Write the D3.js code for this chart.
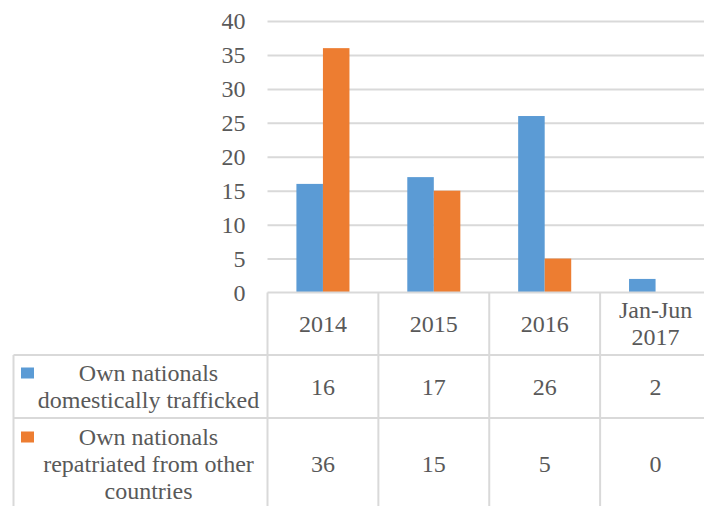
<!DOCTYPE html>
<html>
<head>
<meta charset="utf-8">
<script src="https://cdn.jsdelivr.net/npm/d3@7"></script>
</head>
<body style="margin:0; padding:0; background:#fff;">
<svg id="chart" width="704" height="506" style="display:block"></svg>
<script>
// Categories (header row of the data table; multi-line labels split by "\n")
const categories = ["2014", "2015", "2016", "Jan-Jun\n2017"];
// Series names (legend column of the data table)
const seriesNames = ["Own nationals\ndomestically trafficked", "Own nationals\nrepatriated from other\ncountries"];
// Series values
const domestic = [16, 17, 26, 2];
const repatriated = [36, 15, 5, 0];
// Y axis ticks
const yTicks = [0, 5, 10, 15, 20, 25, 30, 35, 40];

const seriesValues = [domestic, repatriated];
const colors = ["#5B9BD5", "#ED7D31"];

const FONT = "'Liberation Serif', 'Times New Roman', serif";
const TEXT_COLOR = "#595959";

const svg = d3.select("#chart");
const W = 704, H = 506;

const plotLeft = 267.5, plotRight = 711, plotTop = 21, plotBottom = 292.5;
const tableLeft = 13.5;
const rowBounds = [292.5, 355, 418, 512];
const fontSize = 24, lineH = 27;
const gridColor = "#D9D9D9";

const x = d3.scaleBand().domain(categories).range([plotLeft, plotRight]).paddingInner(0).paddingOuter(0);
const xs = d3.scaleBand().domain([0, 1]).range([0, x.bandwidth()]).paddingInner(0).paddingOuter(1.09);
const y = d3.scaleLinear().domain([0, 40]).range([plotBottom, plotTop]);

// Gridlines
const grid = svg.append("g")
  .attr("transform", `translate(${plotLeft},0)`)
  .call(d3.axisLeft(y).tickValues(yTicks.filter(t => t > 0)).tickSize(-(plotRight - plotLeft)).tickFormat(""));
grid.select(".domain").remove();
grid.selectAll(".tick line").attr("stroke", gridColor).attr("stroke-width", 2);

// Y axis labels
const yAxis = svg.append("g")
  .attr("transform", `translate(${plotLeft},0)`)
  .call(d3.axisLeft(y).tickValues(yTicks).tickSize(0).tickPadding(22).tickFormat(d3.format("d")));
yAxis.select(".domain").remove();
yAxis.attr("font-family", null).attr("font-size", null);
yAxis.selectAll(".tick text")
  .attr("style", `font-family:${FONT}; font-size:${fontSize}px; fill:${TEXT_COLOR}`)
  .attr("fill", TEXT_COLOR);

// Bars
seriesValues.forEach((vals, si) => {
  svg.append("g").selectAll("rect")
    .data(vals)
    .join("rect")
    .attr("x", (d, i) => x(categories[i]) + xs(si))
    .attr("y", d => y(d))
    .attr("width", xs.bandwidth())
    .attr("height", d => y(0) - y(d))
    .attr("fill", colors[si]);
});

// Data table lines
const tbl = svg.append("g").attr("stroke", gridColor).attr("stroke-width", 2);
// axis line / top of table
tbl.append("line").attr("x1", plotLeft).attr("x2", W).attr("y1", rowBounds[0]).attr("y2", rowBounds[0]);
// row separators
[rowBounds[1], rowBounds[2]].forEach(yy => {
  tbl.append("line").attr("x1", tableLeft).attr("x2", W).attr("y1", yy).attr("y2", yy);
});
// left edge of legend column
tbl.append("line").attr("x1", tableLeft).attr("x2", tableLeft).attr("y1", rowBounds[1]).attr("y2", H);
// category column separators
categories.forEach(c => {
  const xx = x(c);
  tbl.append("line").attr("x1", xx).attr("x2", xx).attr("y1", rowBounds[0]).attr("y2", H);
});
tbl.append("line").attr("x1", plotRight).attr("x2", plotRight).attr("y1", rowBounds[0]).attr("y2", H);

function multiline(g, str, cx, cy) {
  const lines = str.split("\n");
  const t = g.append("text")
    .attr("text-anchor", "middle")
    .attr("style", `font-family:${FONT}; font-size:${fontSize}px; fill:${TEXT_COLOR}`);
  lines.forEach((ln, i) => {
    t.append("tspan")
      .attr("x", cx)
      .attr("y", cy + (i - (lines.length - 1) / 2) * lineH)
      .attr("dy", "0.34em")
      .text(ln);
  });
}

const txt = svg.append("g");
// Header row
categories.forEach(c => {
  multiline(txt, c, x(c) + x.bandwidth() / 2, (rowBounds[0] + rowBounds[1]) / 2);
});
// Series rows
const rowCenters = [(rowBounds[1] + rowBounds[2]) / 2, 464];
seriesNames.forEach((name, si) => {
  const cy = rowCenters[si];
  const nLines = name.split("\n").length;
  multiline(txt, name, 148.5, cy);
  // legend key
  const firstLineY = cy - (nLines - 1) / 2 * lineH;
  svg.append("rect")
    .attr("x", 21).attr("y", firstLineY - 5.5)
    .attr("width", 13).attr("height", 11)
    .attr("fill", colors[si]);
  seriesValues[si].forEach((v, i) => {
    multiline(txt, String(v), x(categories[i]) + x.bandwidth() / 2, cy);
  });
});
</script>
</body>
</html>
